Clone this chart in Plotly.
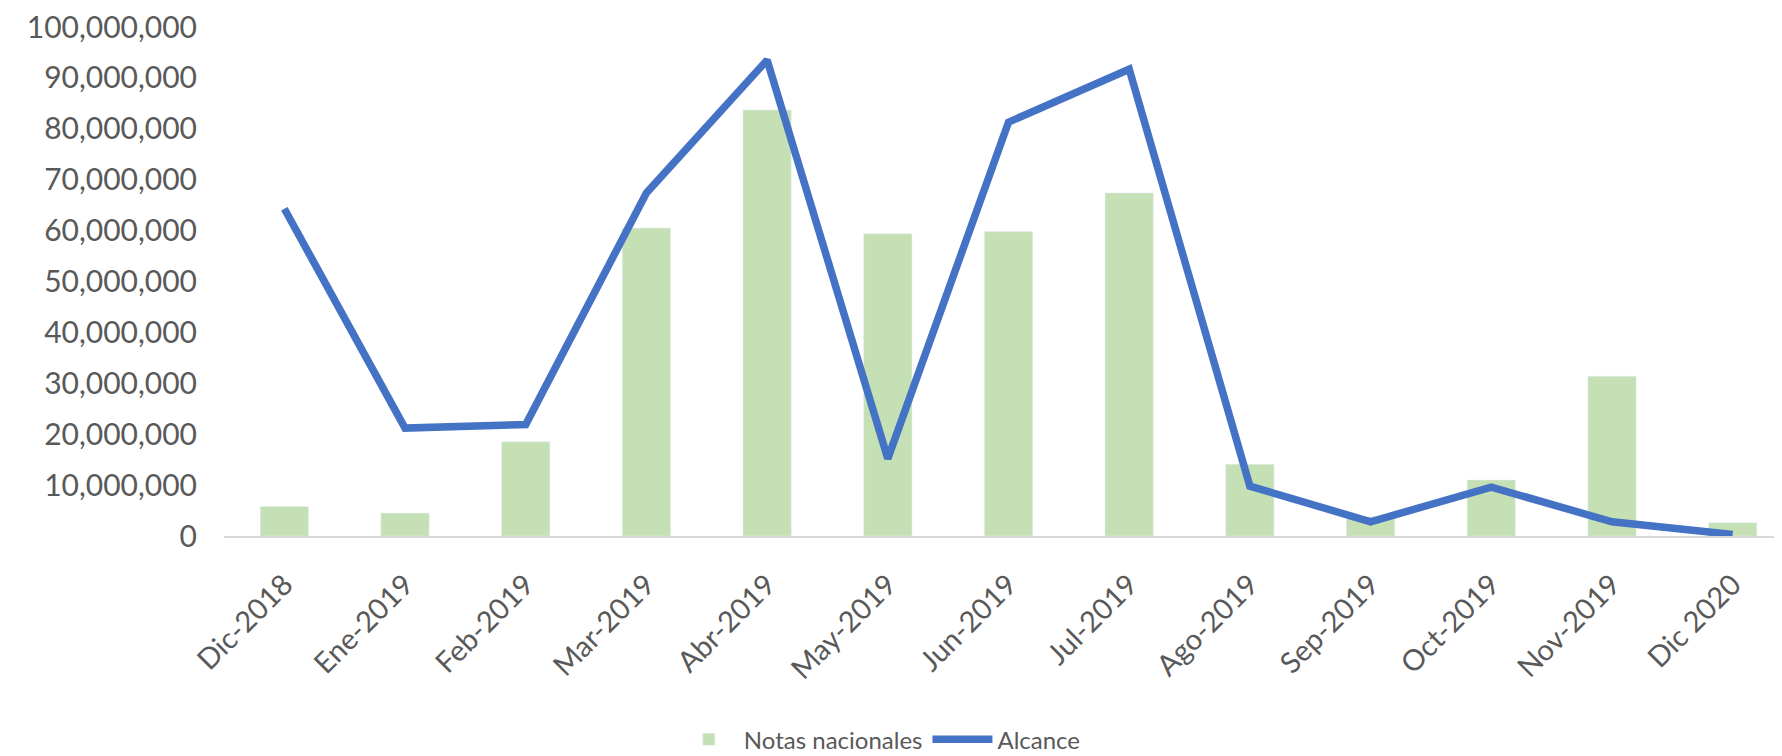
import plotly.graph_objects as go

BAR_COLOR = "#C5E0B4"
LINE_COLOR = "#4472C4"
TEXT_COLOR = "#595959"

meses = ["Dic-2018", "Ene-2019", "Feb-2019", "Mar-2019", "Abr-2019", "May-2019",
         "Jun-2019", "Jul-2019", "Ago-2019", "Sep-2019", "Oct-2019", "Nov-2019", "Dic 2020"]

notas_nacionales = [5_800_000, 4_500_000, 18_500_000, 60_500_000, 83_700_000, 59_400_000,
                    59_800_000, 67_400_000, 14_100_000, 3_800_000, 11_000_000, 31_400_000, 2_600_000]

alcance = [64_300_000, 21_200_000, 21_900_000, 67_400_000, 93_500_000, 15_200_000,
           81_300_000, 91_700_000, 9_800_000, 2_800_000, 9_600_000, 2_800_000, 300_000]

fig = go.Figure()
fig.add_trace(go.Bar(name="Notas nacionales", x=meses, y=notas_nacionales,
                     marker_color=BAR_COLOR, width=0.4))
fig.add_trace(go.Scatter(name="Alcance", x=meses, y=alcance, mode="lines",
                         line=dict(color=LINE_COLOR, width=7.5)))

# page body adds an 8px offset; the reference plot area runs past the right edge
fig.update_layout(
    width=1800, height=770,
    margin=dict(l=216, r=15, t=19, b=242, autoexpand=False),
    plot_bgcolor="white", paper_bgcolor="white",
    font=dict(family="Lato, Open Sans, sans-serif", size=28, color=TEXT_COLOR),
    legend=dict(orientation="h", x=0.418, xanchor="center", y=-0.4, yanchor="middle",
                font=dict(size=24, color=TEXT_COLOR), itemwidth=60),
    showlegend=True,
)
fig.update_xaxes(tickangle=-45, showline=True, linecolor="#D9D9D9", linewidth=2,
                 showgrid=False, ticks="", automargin=False, ticklabelstandoff=18,
                 tickfont=dict(size=29, color=TEXT_COLOR))
fig.update_yaxes(range=[0, 100_000_000], dtick=10_000_000, tickformat=",",
                 showgrid=False, zeroline=False, showline=False, ticks="",
                 automargin=False, ticklabelstandoff=26, ticklabeloverflow="allow",
                 tickfont=dict(size=30, color=TEXT_COLOR))

fig.write_html("out.html")
